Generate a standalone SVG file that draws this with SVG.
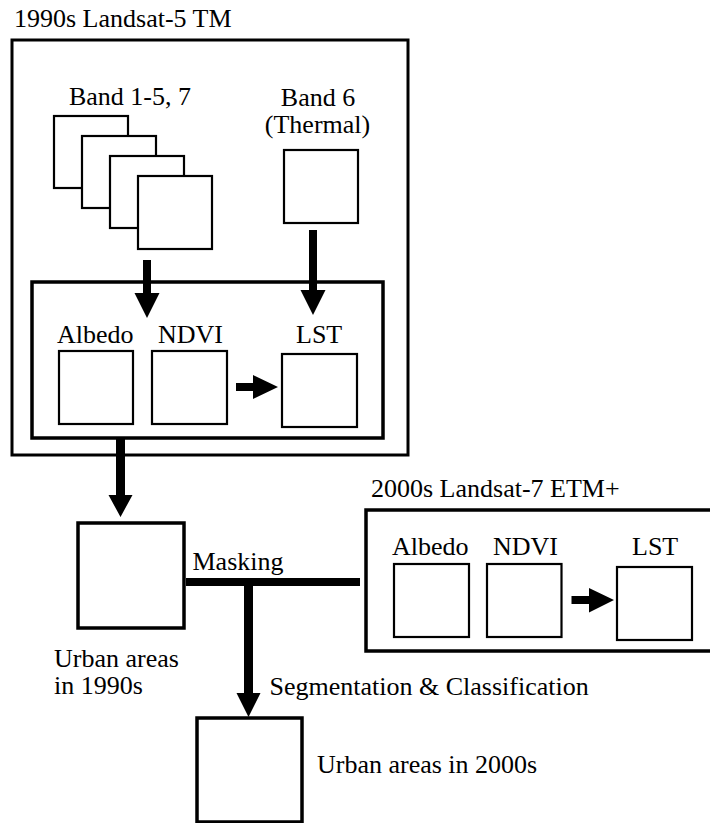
<svg xmlns="http://www.w3.org/2000/svg" width="710" height="823" viewBox="0 0 710 823" font-family="'Liberation Serif', 'DejaVu Serif', serif" font-size="26">
<style>
text{font-family:'Liberation Serif','DejaVu Serif',serif;font-size:26px;fill:#000}
.c{text-anchor:middle}
.sq{fill:#fff;stroke:#000;stroke-width:2.2}
.bx{fill:none;stroke:#000;stroke-width:3.5}
.ar{fill:#000;stroke:none}
</style>
<g id="tm1990">
<rect x="12" y="40" width="396" height="415" fill="none" stroke="#000" stroke-width="3"/>
<text x="14" y="27">1990s Landsat-5 TM</text>
</g>
<g id="bands">
<text class="c" x="130" y="105">Band 1-5, 7</text>
<rect class="sq" x="54" y="116" width="74" height="72"/>
<rect class="sq" x="82" y="136" width="74" height="72"/>
<rect class="sq" x="110" y="156" width="74" height="72"/>
<rect class="sq" x="138" y="176" width="74" height="73"/>
</g>
<g id="band6">
<text class="c" x="318" y="106">Band 6</text>
<text class="c" x="317.5" y="133">(Thermal)</text>
<rect class="sq" x="284" y="150" width="74" height="73"/>
</g>
<g id="products1990">
<rect class="bx" x="32" y="282" width="351" height="156"/>
<text x="57" y="343">Albedo</text>
<text x="158" y="343">NDVI</text>
<text x="296" y="343">LST</text>
<rect class="sq" x="59" y="351" width="74" height="73"/>
<rect class="sq" x="152" y="351" width="75" height="73"/>
<rect class="sq" x="282" y="354" width="75" height="73"/>
</g>
<g id="urban1990">
<rect class="bx" x="78" y="523" width="106" height="105"/>
<text x="54" y="667">Urban areas</text>
<text x="54" y="694">in 1990s</text>
</g>
<g id="etm2000">
<text x="371" y="497">2000s Landsat-7 ETM+</text>
<rect class="bx" x="366" y="510" width="350" height="141"/>
<text x="392" y="555">Albedo</text>
<text x="493" y="555">NDVI</text>
<text x="632" y="555">LST</text>
<rect class="sq" x="394" y="564" width="75" height="73"/>
<rect class="sq" x="487" y="564" width="74.5" height="73"/>
<rect class="sq" x="617" y="567" width="75" height="73"/>
</g>
<g id="urban2000">
<rect class="bx" x="197" y="718" width="105" height="104"/>
<text x="317" y="773">Urban areas in 2000s</text>
</g>
<g id="connectors">
<path class="ar" d="M143,260 H151 V293 H159.5 L147,318 L134.5,293 H143 Z"/>
<path class="ar" d="M309,230 H317 V290 H325.5 L313,315 L300.5,290 H309 Z"/>
<path class="ar" d="M236,383 H253 V375 L278,387 L253,399 V391 H236 Z"/>
<path class="ar" d="M116,438 H125 V495 H132.5 L120.5,517 L108.5,495 H116 Z"/>
<rect class="ar" x="186" y="578" width="174" height="8"/>
<path class="ar" d="M244,578 H253 V693 H260.5 L248.5,717 L236.5,693 H244 Z"/>
<path class="ar" d="M571.5,596 H589 V588 L614,600 L589,612.5 V604 H571.5 Z"/>
<text x="192.5" y="570">Masking</text>
<text x="269.5" y="695">Segmentation &amp; Classification</text>
</g>
</svg>
